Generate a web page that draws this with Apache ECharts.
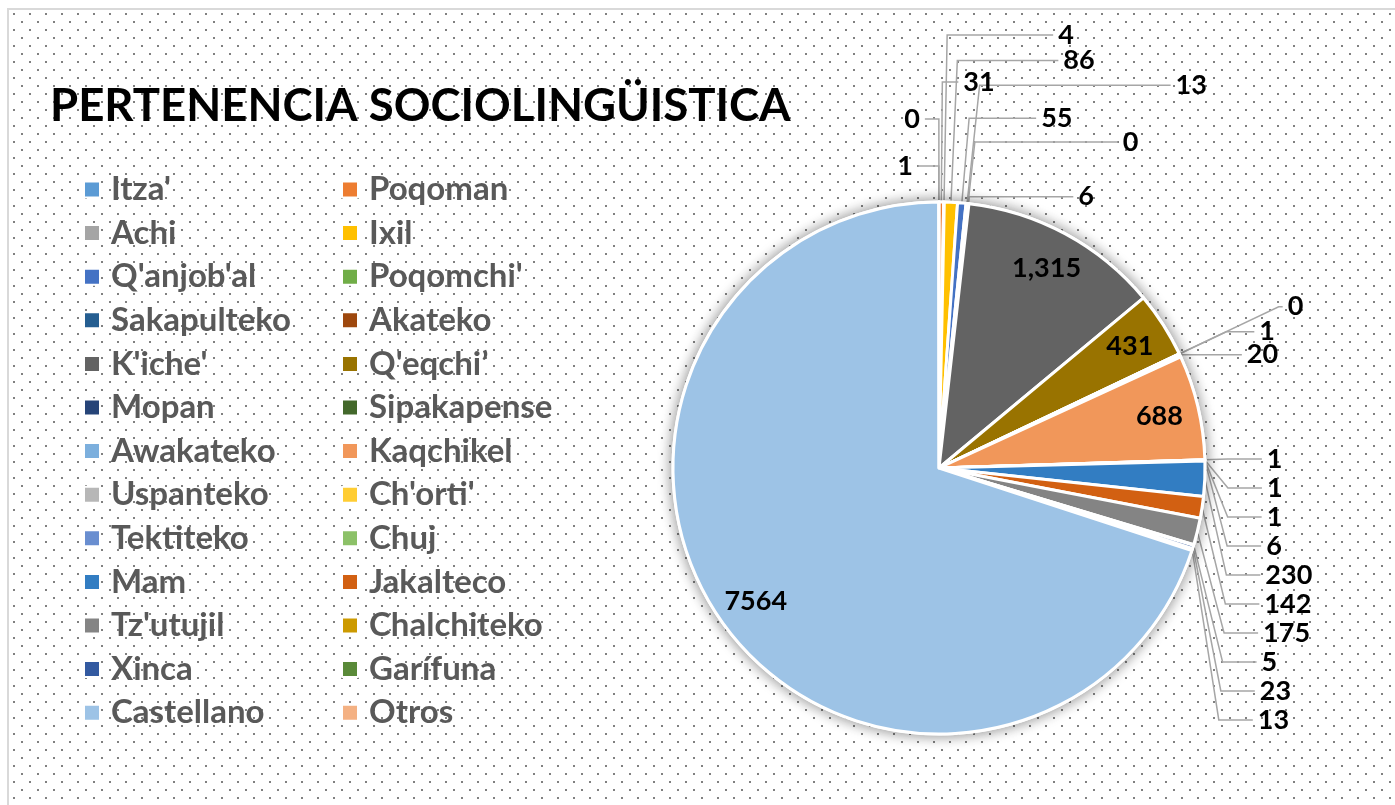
<!DOCTYPE html>
<html><head><meta charset="utf-8">
<script src="https://cdn.jsdelivr.net/npm/echarts@6/dist/echarts.min.js"></script>
<style>
html,body{margin:0;padding:0;width:1395px;height:805px;overflow:hidden;background:#fff;}
#bg{position:absolute;left:7px;top:8px;width:1388px;height:797px;border-left:2px solid #d9d9d9;border-top:2px solid #d9d9d9;
background-image:url("data:image/svg+xml;utf8,<svg xmlns='http://www.w3.org/2000/svg' width='16' height='16'><rect x='4' y='3' width='2' height='2' fill='%23808080'/><rect x='12' y='11' width='2' height='2' fill='%23808080'/></svg>");}
#chart{position:absolute;left:0;top:0;width:1395px;height:805px;}
</style></head>
<body>
<div id="bg"></div>
<div id="chart"></div>
<script>
const titleText = 'PERTENENCIA SOCIOLINGÜISTICA';
const categories = ["Itza'","Poqoman","Achi","Ixil","Q'anjob'al","Poqomchi'","Sakapulteko","Akateko","K'iche'","Q'eqchi’","Mopan","Sipakapense","Awakateko","Kaqchikel","Uspanteko","Ch'orti'","Tektiteko","Chuj","Mam","Jakalteco","Tz'utujil","Chalchiteko","Xinca","Garífuna","Castellano","Otros"];
const values = [0,31,4,86,55,13,0,6,1315,431,0,1,20,688,1,1,1,6,230,142,175,5,23,13,7564,1];
const valueLabels = ["0","31","4","86","55","13","0","6","1,315","431","0","1","20","688","1","1","1","6","230","142","175","5","23","13","7564","1"];
const colors = ['#5B9BD5','#ED7D31','#A5A5A5','#FFC000','#4472C4','#70AD47','#255E91','#9E480E','#636363','#997300','#264478','#43682B','#7CAFDD','#F1975A','#B7B7B7','#FFCD33','#698ED0','#8CC168','#327DC2','#D26012','#848484','#CC9A00','#335AA1','#5A8A39','#9DC3E6','#F4B183'];

// Styling: leader-line lengths [radial, horizontal] for labels fanned out around the top of the pie
const fanLines = {
  "Otros":[36,21], "Itza'":[83,14], "Poqoman":[120,16], "Achi":[167,106], "Ixil":[142,101],
  "Q'anjob'al":[85,67], "Poqomchi'":[119,191], "Sakapulteko":[62,143], "Akateko":[7,104],
  "Mopan":[110,4], "Sipakapense":[52,28], "Awakateko":[2,60]
};

const FONT = 'Lato';
const CX = 939, CY = 468, R = 266;
const total = values.reduce((a,b)=>a+b,0);
const isBig = v => v >= 400;
const fmt = p => valueLabels[p.dataIndex];
const labelFont = {color:'#000', fontWeight:'bold', fontSize:27, fontFamily:FONT};
const lineStyle = {color:'#A6A6A6', width:1.5};

const col1 = categories.filter((c,i)=>i%2===0);
const col2 = categories.filter((c,i)=>i%2===1);
const legendText = {fontSize:33, fontWeight:'bold', color:'#595959', fontFamily:FONT, lineHeight:30, padding:[0,0,0,6]};

const chart = echarts.init(document.getElementById('chart'), null, {renderer:'canvas'});
chart.setOption({
  animation:false,
  backgroundColor:'transparent',
  title:{text:titleText, left:45, top:76, textStyle:{fontSize:45.5, fontWeight:'bold', color:'#000', fontFamily:FONT, lineHeight:50}},
  legend:[
    {orient:'vertical', left:78, top:168, itemWidth:16, itemHeight:16, itemGap:10.6, icon:'rect', data:col1, textStyle:legendText, selectedMode:false},
    {orient:'vertical', left:336, top:168, itemWidth:16, itemHeight:16, itemGap:10.6, icon:'rect', data:col2, textStyle:legendText, selectedMode:false}
  ],
  series:[
    // soft shadow under the pie
    {type:'pie', silent:true, center:[CX,CY], radius:[0,R], startAngle:90,
     data:[{name:'base', value:total}], label:{show:false}, labelLine:{show:false},
     itemStyle:{color:'#fff', borderColor:'#fff', borderWidth:3, shadowBlur:14, shadowColor:'rgba(0,0,0,0.45)'}},
    // slices + auto-arranged labels on the right
    {type:'pie', silent:true, center:[CX,CY], radius:[0,R], startAngle:90.02, clockwise:true,
     avoidLabelOverlap:true, labelLayout:{hideOverlap:false},
     itemStyle:{borderColor:'#fff', borderWidth:3},
     label:{show:true, position:'outside', formatter:p=>'{v|'+fmt(p)+'}', rich:{v:Object.assign({lineHeight:22}, labelFont)}},
     labelLine:{show:true, length:28, length2:34, lineStyle},
     data:categories.map((n,i)=>({name:n, value:values[i], itemStyle:{color:colors[i]},
        label:{show:!isBig(values[i]) && !fanLines[n]}, labelLine:{show:!isBig(values[i]) && !fanLines[n]}}))},
    // fanned labels at the top (transparent slices)
    {type:'pie', silent:true, center:[CX,CY], radius:[0,R], startAngle:90.02, clockwise:true,
     avoidLabelOverlap:false, labelLayout:{hideOverlap:false},
     itemStyle:{color:'rgba(0,0,0,0)', borderWidth:0},
     label:Object.assign({show:true, position:'outside', formatter:fmt}, labelFont),
     labelLine:{show:true, lineStyle},
     data:categories.map((n,i)=>{
        const f = fanLines[n];
        return {name:n, value:values[i], label:{show:!!f}, labelLine:f?{show:true, length:f[0], length2:f[1]}:{show:false}};
     })},
    // value labels inside the large slices
    {type:'pie', silent:true, center:[CX,CY], radius:[0,R*1.68], startAngle:90.02, clockwise:true,
     labelLayout:{hideOverlap:false},
     itemStyle:{color:'rgba(0,0,0,0)', borderWidth:0},
     label:Object.assign({show:true, position:'inside', formatter:fmt}, labelFont),
     labelLine:{show:false},
     data:categories.map((n,i)=>({name:n, value:values[i], label:{show:isBig(values[i])}}))}
  ]
});
</script>
</body></html>
